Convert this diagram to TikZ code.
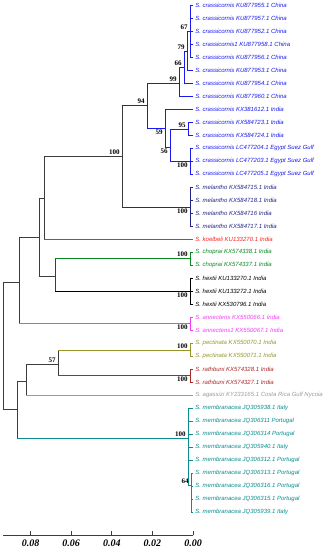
\documentclass[tikz,border=0pt]{standalone}
\usepackage{fontspec}
\setmainfont{Liberation Serif}
\setsansfont{Liberation Sans}
\usepackage{xcolor}
\usepackage{tikz}
\definecolor{crass}{RGB}{25,25,240}
\definecolor{melan}{RGB}{35,35,135}
\definecolor{koel}{RGB}{245,35,35}
\definecolor{chop}{RGB}{10,135,30}
\definecolor{annec}{RGB}{245,60,245}
\definecolor{pect}{RGB}{150,150,40}
\definecolor{rath}{RGB}{170,40,40}
\definecolor{agas}{RGB}{155,155,155}
\definecolor{memb}{RGB}{10,140,140}
\definecolor{trunk}{RGB}{60,60,60}
\tikzset{
  tip/.style={font=\sffamily\itshape\fontsize{6.0}{7}\selectfont, anchor=west, inner sep=0pt},
  boot/.style={font=\bfseries\fontsize{7}{8}\selectfont, inner sep=0pt},
  bup/.style={boot, anchor=south east, xshift=-2pt, yshift=1.5pt},
  bdn/.style={boot, anchor=north east, xshift=-2pt, yshift=-1.5pt},
  scalelab/.style={font=\bfseries\itshape\fontsize{10}{11}\selectfont, inner sep=0pt}
}

\begin{document}
\begin{tikzpicture}[x=1pt, y=-1pt, line width=0.8pt, line cap=rect]
\useasboundingbox (0,0) rectangle (333,550);

\foreach \i/\txt/\c in {
 1/{S. crassicornis KU877955.1 China}/crass,
 2/{S. crassicornis KU877957.1 China}/crass,
 3/{S. crassicornis KU877952.1 China}/crass,
 4/{S. crassicornis1 KU877958.1 China}/crass,
 5/{S. crassicornis KU877956.1 China}/crass,
 6/{S. crassicornis KU877953.1 China}/crass,
 7/{S. crassicornis KU877954.1 China}/crass,
 8/{S. crassicornis KU877960.1 China}/crass,
 9/{S. crassicornis KX381612.1 India}/crass,
 10/{S. crassicornis KX584723.1 India}/crass,
 11/{S. crassicornis KX584724.1 India}/crass,
 12/{S. crassicornis LC477204.1 Egypt Suez Gulf}/crass,
 13/{S. crassicornis LC477203.1 Egypt Suez Gulf}/crass,
 14/{S. crassicornis LC477205.1 Egypt Suez Gulf}/crass,
 15/{S. melantho KX584715.1 India}/melan,
 16/{S. melantho KX584718.1 India}/melan,
 17/{S. melantho KX584716 India}/melan,
 18/{S. melantho KX584717.1 India}/melan,
 19/{S. koelbeli KU133270.1 India}/koel,
 20/{S. choprai KX574338.1 India}/chop,
 21/{S. choprai KX574337.1 India}/chop,
 22/{S. hextii KU133270.1 India}/black,
 23/{S. hextii KU133272.1 India}/black,
 24/{S. hextii KX530796.1 India}/black,
 25/{S. annectens KX550066.1 India}/annec,
 26/{S. annectens1 KX550067.1 India}/annec,
 27/{S. pectinata KX550070.1 India}/pect,
 28/{S. pectinata KX550071.1 India}/pect,
 29/{S. rathbuni KX574328.1 India}/rath,
 30/{S. rathbuni KX574327.1 India}/rath,
 31/{S. agassizi KY233165.1 Costa Rica Gulf Nycoia}/agas,
 32/{S. membranacea JQ305938.1 Italy}/memb,
 33/{S. membranacea JQ306311 Portugal}/memb,
 34/{S. membranacea JQ306314 Portugal}/memb,
 35/{S. membranacea JQ305940.1 Italy}/memb,
 36/{S. membranacea JQ306312.1 Portugal}/memb,
 37/{S. membranacea JQ306313.1 Portugal}/memb,
 38/{S. membranacea JQ306316.1 Portugal}/memb,
 39/{S. membranacea JQ306315.1 Portugal}/memb,
 40/{S. membranacea JQ305939.1 Italy}/memb}
{
  \coordinate (l\i) at (193,{5+13*(\i-1)});
  \node[tip, text=\c] (t\i) at (195,{5+13*(\i-1)}) {\txt};
}

\coordinate (root) at (3,345);
\coordinate (up) at (19,282);
\coordinate (low) at (17,409);
\coordinate (cB) at (39,237);
\coordinate (cC) at (44,198);
\coordinate (cD) at (122,156);
\coordinate (cF) at (147,105);
\coordinate (cG) at (179,83);
\coordinate (cH) at (184,67);
\coordinate (cI) at (187,51);
\coordinate (cJ) at (190,31);
\coordinate (cK) at (165,128);
\coordinate (cL) at (170,147);
\coordinate (cM) at (188,129);
\coordinate (egy) at (190,161);
\coordinate (mel) at (190,207);
\coordinate (cE) at (55,276);
\coordinate (cho) at (190,258);
\coordinate (hex) at (190,291);
\coordinate (ann) at (190,323);
\coordinate (cO) at (26,381);
\coordinate (cP) at (58,364);
\coordinate (pec) at (190,350);
\coordinate (rat) at (190,375);
\coordinate (mem) at (188,438);
\coordinate (mem2) at (191,485);

\foreach \p/\a/\b/\c in {root/up/low/trunk, up/cB/ann/trunk, low/cO/mem/trunk,
  cB/cC/cE/trunk, cC/cD/l19/trunk, cD/cF/mel/trunk, cF/cG/cK/crass,
  cG/cH/l8/crass, cH/cI/l7/crass, cI/cJ/l6/crass, cJ/l1/l5/crass,
  cK/l9/cL/crass, cL/cM/egy/crass, cM/l10/l11/crass, egy/l12/l14/crass,
  mel/l15/l18/melan, cE/cho/hex/trunk, cho/l20/l21/chop, hex/l22/l24/black,
  ann/l25/l26/annec, cO/cP/l31/trunk, cP/pec/rat/trunk, pec/l27/l28/pect,
  rat/l29/l30/rath, mem/l32/mem2/memb, mem2/l37/l40/memb}
  \draw[\c] (\p |- \a) -- (\p |- \b);

\foreach \p/\q/\c in {root/up/trunk, root/low/trunk, up/cB/trunk, up/ann/annec,
  cB/cC/trunk, cB/cE/trunk, cC/cD/trunk, cC/l19/koel, cD/cF/crass, cD/mel/crass,
  cF/cG/crass, cF/cK/crass, cG/cH/crass, cG/l8/crass, cH/cI/crass, cH/l7/crass,
  cI/cJ/crass, cI/l6/crass, cJ/l1/crass, cJ/l2/crass, cJ/l3/crass, cJ/l4/crass,
  cJ/l5/crass, cK/l9/crass, cK/cL/crass, cL/cM/crass, cL/egy/crass,
  cM/l10/crass, cM/l11/crass, egy/l12/crass, egy/l13/crass, egy/l14/crass,
  mel/l15/melan, mel/l16/melan, mel/l17/melan, mel/l18/melan,
  cE/cho/chop, cE/hex/black, cho/l20/chop, cho/l21/chop,
  hex/l22/black, hex/l23/black, hex/l24/black, ann/l25/annec, ann/l26/annec,
  low/cO/trunk, low/mem/memb, cO/cP/trunk, cO/l31/agas, cP/pec/pect, cP/rat/rath,
  pec/l27/pect, pec/l28/pect, rat/l29/rath, rat/l30/rath,
  mem/l32/memb, mem/l33/memb, mem/l34/memb, mem/l35/memb, mem/l36/memb,
  mem/mem2/memb, mem2/l37/memb, mem2/l38/memb, mem2/l39/memb, mem2/l40/memb}
  \draw[\c] (\p |- \q) -- (\q);

\node[bup] (bJ) at (cJ) {67};
\node[bup] (bI) at (cI) {79};
\node[bup] (bH) at (cH) {66};
\node[bup] (bG) at (cG) {99};
\node[bup] (bF) at (cF) {94};
\node[bdn] (bK) at (cK) {59};
\node[bdn] (bL) at (cL) {56};
\node[bup] (bM) at (cM) {95};
\node[bdn] (begy) at (egy) {100};
\node[bup] (bD) at (cD) {100};
\node[bdn] (bmel) at (mel) {100};
\node[bup] (bcho) at (cho) {100};
\node[bdn] (bhex) at (hex) {100};
\node[bdn] (bann) at (ann) {100};
\node[bup] (bP) at (cP) {57};
\node[bup] (bpec) at (pec) {100};
\node[bdn] (brat) at (rat) {100};
\node[bup] (bmem) at (mem) {100};
\node[bup] (bmem2) at (mem2) {64};

\coordinate (s0) at (3,535);
\coordinate (s1) at (193,535);
\draw[trunk] (s0) -- (s1);
\foreach \v [count=\k] in {0.08,0.06,0.04,0.02,0.00} {
  \coordinate (k\k) at ({193-(5-\k)*40.6},535);
  \draw[trunk] (k\k) -- ++(0,-3.5);
  \node[scalelab] (v\k) at ([yshift=-8pt]k\k) {\v};
}
\end{tikzpicture}
\end{document}
